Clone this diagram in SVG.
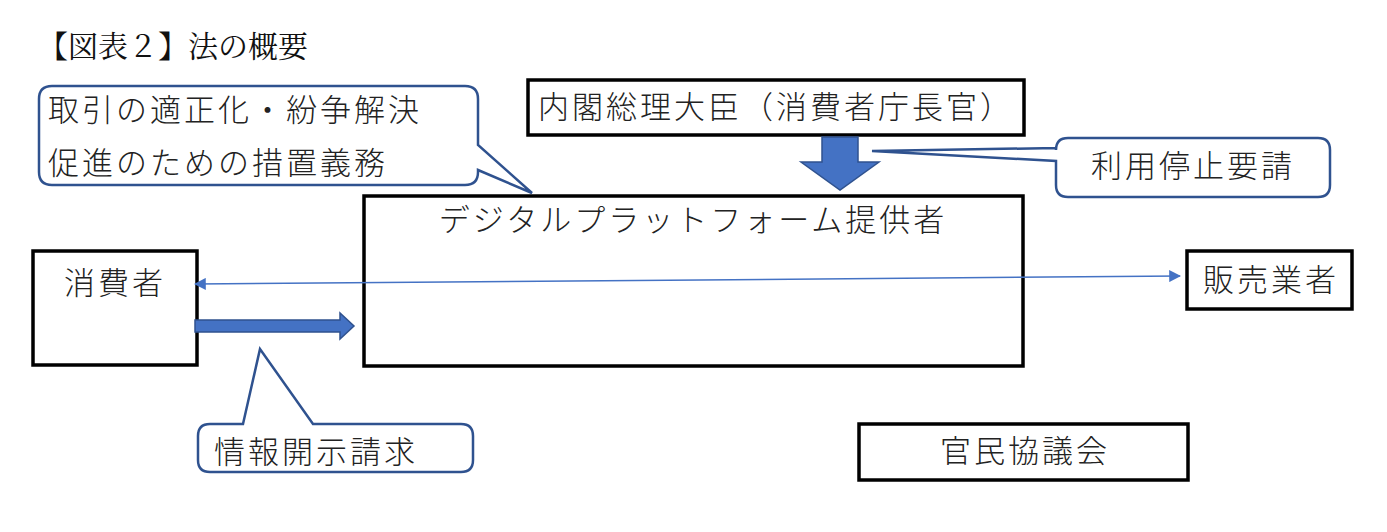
<svg xmlns="http://www.w3.org/2000/svg" width="1387" height="532" viewBox="0 0 1387 532">
<style>
.box{fill:#fff;stroke:#000;stroke-width:3.5}
.call{fill:#fff;stroke:#2F528F;stroke-width:2.5}
.t{font-family:"Noto Sans CJK JP","Noto Sans CJK SC",sans-serif;font-size:31px;letter-spacing:3px;fill:#222;font-weight:300}
.blue{fill:#4472C4;stroke:#2F528F;stroke-width:1.5}
</style>
<defs>
<marker id="ah" viewBox="0 0 10 10" refX="9" refY="5" markerWidth="12" markerHeight="12" markerUnits="userSpaceOnUse" orient="auto-start-reverse"><path d="M0,0L10,5L0,10z" fill="#4472C4"/></marker>
</defs>
<rect width="1387" height="532" fill="#fff"/>
<text x="38" y="57" style="font-family:'Liberation Serif','Noto Serif CJK JP','Noto Sans CJK JP',serif;font-size:30px;fill:#111">【図表２】法の概要</text>
<g id="platform"><rect class="box" x="364" y="196" width="659" height="170"/><text class="t" x="693" y="231" text-anchor="middle">デジタルプラットフォーム提供者</text></g>
<g id="pm"><rect class="box" x="528" y="80" width="496" height="55"/><text class="t" x="776" y="118" text-anchor="middle">内閣総理大臣（消費者庁長官）</text></g>
<g id="consumer"><rect class="box" x="33" y="251" width="164" height="114"/><text class="t" x="115" y="294" text-anchor="middle">消費者</text></g>
<g id="seller"><rect class="box" x="1187" y="251" width="165" height="58"/><text class="t" x="1271" y="291" text-anchor="middle">販売業者</text></g>
<g id="council"><rect class="box" x="859" y="424" width="329" height="56"/><text class="t" x="1025" y="462" text-anchor="middle">官民協議会</text></g>
<g id="connectors">
<line x1="195" y1="284" x2="1180" y2="276" stroke="#4472C4" stroke-width="1.5" marker-start="url(#ah)" marker-end="url(#ah)"/>
<path class="blue" d="M195,320H340V313L354,326L340,339V332H195Z"/>
<path class="blue" d="M822,137H858V162H879L840,190L801,162H822Z"/>
</g>
<g id="callout-obligation"><path class="call" d="M52,86H465Q478,86 478,99V145L532,193L478,170V172Q478,185 465,185H52Q39,185 39,172V99Q39,86 52,86Z"/><text class="t" x="48" y="121">取引の適正化・紛争解決</text><text class="t" x="48" y="174">促進のための措置義務</text></g>
<g id="callout-stop"><path class="call" d="M1068,138H1318Q1330,138 1330,150V185Q1330,197 1318,197H1068Q1056,197 1056,185V161L872,151L1056,148V150Q1056,138 1068,138Z"/><text class="t" x="1193" y="177" text-anchor="middle">利用停止要請</text></g>
<g id="callout-info"><path class="call" d="M210,424H243L260,349L313,424H461Q473,424 473,436V460Q473,472 461,472H210Q198,472 198,460V436Q198,424 210,424Z"/><text class="t" x="214" y="463">情報開示請求</text></g>
</svg>
